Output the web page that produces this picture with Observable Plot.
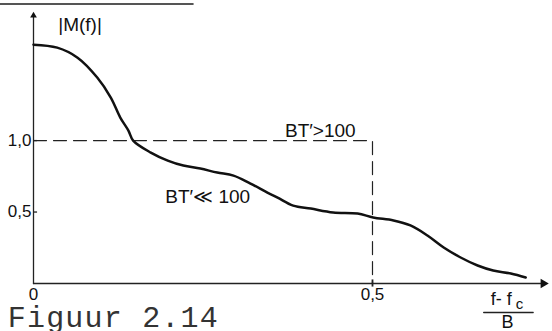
<!DOCTYPE html>
<html><head><meta charset="utf-8">
<script src="https://cdn.jsdelivr.net/npm/d3@7"></script>
<script src="https://cdn.jsdelivr.net/npm/@observablehq/plot@0.6"></script>
<style>body{margin:0;background:#fff}#c{width:552px;height:331px;overflow:hidden}</style>
</head><body><div id="c"></div>
<script>
// |M(f)| versus (f - fc)/B
const curveX = [0, 0.035, 0.065, 0.094, 0.114, 0.128, 0.140, 0.147, 0.173, 0.198, 0.221, 0.246, 0.271, 0.295, 0.320, 0.345, 0.360, 0.383, 0.409, 0.442, 0.478, 0.501, 0.531, 0.556, 0.581, 0.605, 0.630, 0.655, 0.678, 0.704, 0.726];
const curveY = [1.671, 1.650, 1.580, 1.441, 1.301, 1.161, 1.070, 1.0, 0.916, 0.860, 0.825, 0.804, 0.776, 0.755, 0.699, 0.636, 0.601, 0.545, 0.524, 0.497, 0.490, 0.462, 0.441, 0.406, 0.336, 0.252, 0.182, 0.126, 0.091, 0.070, 0.042];
// ideal (BT' > 100) rectangular response
const idealX = [0, 0.5, 0.5];
const idealY = [1.0, 1.0, 0];
const yTickValues = [0.5, 1.0];
const yTickLabels = ["0,5", "1,0"];
const xTickValues = [0, 0.5];
const xTickLabels = ["0", "0,5"];
const yLabel = "|M(f)|";
const idealLabel = "BT\u2032>100";
const realLabel = "BT\u2032\u226A 100";
const xLabelTop = "f- f";
const xLabelSub = "c";
const xLabelBottom = "B";
const caption = "Figuur 2.14";

const curve = curveX.map((x, i) => ({x, y: curveY[i]}));
const ideal = idealX.map((x, i) => ({x, y: idealY[i]}));

const chart = Plot.plot({
  width: 552, height: 331,
  marginLeft: 33, marginRight: 0, marginTop: 10, marginBottom: 48,
  x: {domain: [0, 0.7655], axis: null},
  y: {domain: [0, 1.91], axis: null},
  style: {fontFamily: "'Liberation Sans', Arial, sans-serif", fontSize: "17px", background: "#fff", color: "#111"},
  marks: [
    // remnant rule at top of scan
    Plot.line([{x: -0.049, y: 1.955}, {x: 0.235, y: 1.955}], {x: "x", y: "y", stroke: "#555", strokeWidth: 2}),
    // axes
    Plot.line([{x: 0, y: 0}, {x: 0, y: 1.88}], {x: "x", y: "y", stroke: "#222", strokeWidth: 1.3}),
    Plot.line([{x: 0, y: 0}, {x: 0.75, y: 0}], {x: "x", y: "y", stroke: "#222", strokeWidth: 1.3}),
    Plot.dot([{x: 0, y: 1.875}], {x: "x", y: "y", symbol: "triangle2", r: 3.2, fill: "#111", stroke: "none"}),
    Plot.dot([{x: 0.752, y: 0}], {x: "x", y: "y", symbol: "triangle2", r: 4.5, rotate: 90, fill: "#111", stroke: "none"}),
    Plot.ruleY(yTickValues, {x1: 0, x2: 0.006, stroke: "#222", strokeWidth: 1.3}),
    Plot.ruleX(xTickValues.slice(1), {y1: -0.025, y2: 0.025, stroke: "#222", strokeWidth: 1.8}),
    Plot.axisY({ticks: yTickValues, tickSize: 0, tickPadding: 2, label: null, fontSize: 17,
      tickFormat: d => yTickLabels[yTickValues.indexOf(d)]}),
    Plot.axisX({ticks: xTickValues, tickSize: 0, tickPadding: 4, label: null, fontSize: 17,
      tickFormat: d => xTickLabels[xTickValues.indexOf(d)]}),
    // ideal rectangle
    Plot.line(ideal, {x: "x", y: "y", stroke: "#222", strokeWidth: 1.2, strokeDasharray: "13,7"}),
    // measured curve
    Plot.line(curve, {x: "x", y: "y", stroke: "#111", strokeWidth: 2.5, curve: "catmull-rom"}),
    // labels
    Plot.text([yLabel], {x: 0.0686, y: 1.811, text: d => d, fontSize: 19, fill: "#111"}),
    Plot.text([idealLabel], {x: 0.423, y: 1.07, text: d => d, fontSize: 19, fill: "#111"}),
    Plot.text([realLabel], {x: 0.257, y: 0.608, text: d => d, fontSize: 19, fill: "#111"}),
    Plot.text([xLabelTop], {x: 0.690, y: -0.112, text: d => d, fontSize: 18, fill: "#111"}),
    Plot.text([xLabelSub], {x: 0.717, y: -0.147, text: d => d, fontSize: 15, fill: "#111"}),
    Plot.line([{x: 0.664, y: -0.203}, {x: 0.737, y: -0.203}], {x: "x", y: "y", stroke: "#222", strokeWidth: 1.3}),
    Plot.text([xLabelBottom], {x: 0.699, y: -0.273, text: d => d, fontSize: 18, fill: "#111"}),
    Plot.text([caption], {x: -0.038, y: -0.301, text: d => d, textAnchor: "start", lineAnchor: "bottom",
      fontSize: 30, fontFamily: "'Liberation Mono', 'Courier New', monospace", fill: "#333"})
  ]
});
// widen the typewriter caption like the scanned original
d3.select(chart).selectAll("text").filter(function() { return this.textContent === caption; })
  .style("letter-spacing", "1.2px");
document.getElementById("c").appendChild(chart);
</script>
</body></html>
